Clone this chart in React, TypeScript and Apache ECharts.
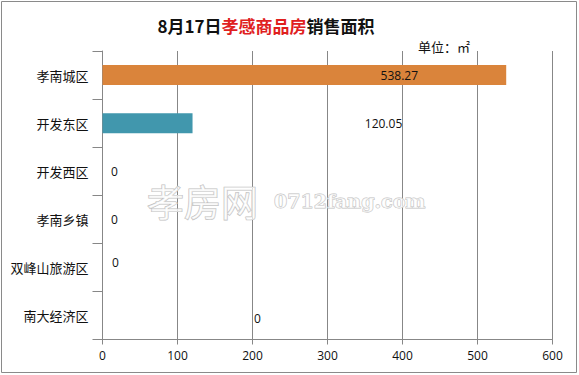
import React, { useEffect, useRef } from "react";
import * as echarts from "echarts";

const categories = ["孝南城区", "开发东区", "开发西区", "孝南乡镇", "双峰山旅游区", "南大经济区"];
const values = [538.27, 120.05, 0, 0, 0, 0];
const barColors = ["#DA843B", "#4197AD", "#4197AD", "#4197AD", "#4197AD", "#4197AD"];
const labelOffsets = [[95, 0], [236, 0], [12, 0], [12, 0], [13, -5], [155, 3]];
const xTicks = [0, 600, 100];

export default function App() {
  const ref = useRef<HTMLDivElement>(null);
  useEffect(() => {
    document.body.style.margin = "0";
    const chart = echarts.init(ref.current!, null, { renderer: "svg" });
    const axisColor = "#878787";
    chart.setOption({
      animation: false,
      backgroundColor: "#ffffff",
      grid: { left: 102.5, right: 26.5, top: 51, bottom: 35.5 },
      title: {
        text: "{a|8月17日}{b|孝感商品房}{a|销售面积}",
        left: 261,
        top: 12,
        textAlign: "center",
        textStyle: {
          rich: {
            a: { fontSize: 17, fontWeight: "bold", color: "#111", fontFamily: "Noto Sans CJK SC" },
            b: { fontSize: 17, fontWeight: "bold", color: "#E0201E", fontFamily: "Noto Sans CJK SC" },
          },
        },
      },
      graphic: [
        {
          type: "rect",
          shape: { x: 1.5, y: 1.5, width: 575, height: 371 },
          style: { fill: "none", stroke: "#8a8a8a", lineWidth: 1 },
          silent: true,
        },
        {
          type: "text",
          x: 418,
          y: 40,
          style: { text: "单位：㎡", fontSize: 13, fill: "#111", fontFamily: "Noto Sans CJK SC" },
        },
        {
          type: "text",
          x: 147,
          y: 182,
          z: 10,
          style: {
            text: "孝房网",
            fontSize: 37,
            fill: "rgba(255,255,255,0.7)",
            stroke: "#c0c0c0",
            lineWidth: 1.2,
            fontFamily: "Noto Sans CJK SC",
          },
        },
        {
          type: "text",
          x: 274,
          y: 191,
          z: 10,
          style: {
            text: "0712fang.com",
            fontSize: 19,
            fontWeight: "bold",
            fill: "rgba(255,255,255,0.7)",
            stroke: "#c0c0c0",
            lineWidth: 1,
            fontFamily: "DejaVu Serif",
          },
        },
      ],
      xAxis: {
        type: "value",
        min: xTicks[0],
        max: xTicks[1],
        interval: xTicks[2],
        axisLine: { show: true, lineStyle: { color: axisColor } },
        axisTick: { show: true, length: 5, lineStyle: { color: axisColor } },
        axisLabel: { color: "#111", fontSize: 12, margin: 10, fontFamily: "Open Sans" },
        splitLine: { show: true, lineStyle: { color: axisColor, width: 1 } },
      },
      yAxis: {
        type: "category",
        data: categories,
        inverse: true,
        axisLine: { show: true, lineStyle: { color: axisColor } },
        axisTick: { show: true, length: 10, lineStyle: { color: axisColor } },
        axisLabel: { color: "#111", fontSize: 13, margin: 14, fontFamily: "Noto Sans CJK SC" },
      },
      series: [
        {
          type: "bar",
          barWidth: 20,
          data: values.map((v, i) => ({
            value: v,
            itemStyle: { color: barColors[i] },
            label: {
              show: true,
              position: "inside",
              offset: labelOffsets[i],
              color: "#111",
              fontSize: 12,
              fontFamily: "Open Sans",
            },
          })),
        },
      ],
    });
    return () => chart.dispose();
  }, []);
  return <div ref={ref} style={{ width: 579, height: 375 }} />;
}
